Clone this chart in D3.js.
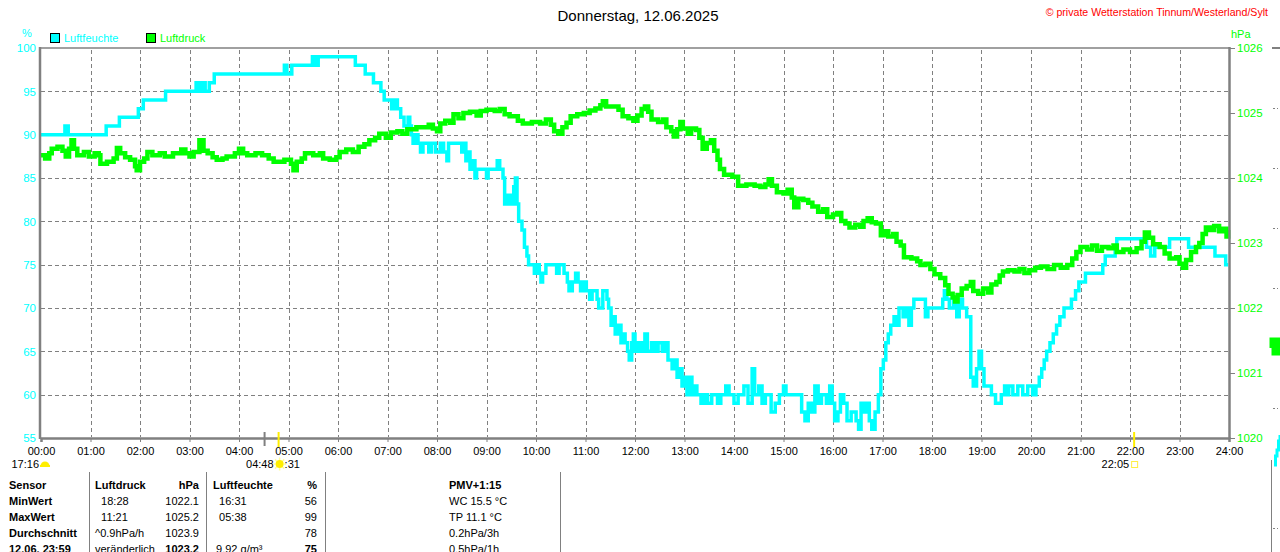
<!DOCTYPE html>
<html>
<head>
<meta charset="utf-8">
<script src="https://cdn.jsdelivr.net/npm/d3@7"></script>
<style>
  body { margin: 0; background: #fff; }
  svg { display: block; font-family: "Liberation Sans", Arial, sans-serif; }
</style>
</head>
<body>
<div id="chart"></div>
<script>
// chart data
const hourLabels = ["00:00","01:00","02:00","03:00","04:00","05:00","06:00","07:00","08:00","09:00","10:00","11:00","12:00",
  "13:00","14:00","15:00","16:00","17:00","18:00","19:00","20:00","21:00","22:00","23:00","24:00"];
const humTicks = [100, 95, 90, 85, 80, 75, 70, 65, 60, 55];
const presTicks = [1026, 1025, 1024, 1023, 1022, 1021, 1020];

// Luftfeuchte (%), step values
const humTime = ["00:00","00:29","00:33","01:19","01:35","01:58","02:04","02:31","03:08","03:12","03:15","03:19","03:24","03:30",
  "04:55","04:58","05:04","05:29","05:32","05:36","06:21","06:33","06:43","06:52","06:56","07:05","07:09","07:12","07:16","07:20",
  "07:25","07:27","07:29","07:31","07:34","07:37","07:40","07:43","07:50","07:53","07:58","08:04","08:08","08:12","08:14","08:30",
  "08:32","08:35","08:38","08:40","08:43","08:46","08:48","09:00","09:02","09:13","09:16","09:20","09:22","09:26","09:30","09:33",
  "09:35","09:37","09:39","09:43","09:46","09:49","09:51","09:58","10:00","10:04","10:06","10:08","10:12","10:25","10:28","10:34",
  "10:38","10:40","10:44","10:48","10:51","10:54","10:58","11:01","11:05","11:08","11:14","11:16","11:21","11:26","11:28","11:31",
  "11:34","11:36","11:39","11:43","11:45","11:48","11:51","11:53","11:56","11:58","12:00","12:04","12:08","12:12","12:15","12:20",
  "12:24","12:28","12:33","12:37","12:40","12:45","12:48","12:51","12:54","12:57","13:00","13:03","13:06","13:09","13:12","13:15",
  "13:20","13:24","13:28","13:33","13:40","13:44","13:50","13:54","14:00","14:05","14:12","14:17","14:22","14:25","14:30","14:34",
  "14:38","14:45","14:50","14:55","15:00","15:03","15:22","15:26","15:30","15:34","15:38","15:42","15:46","15:52","15:56","15:59",
  "16:02","16:06","16:09","16:13","16:17","16:22","16:28","16:31","16:34","16:37","16:41","16:44","16:47","16:51","16:55","16:58",
  "17:01","17:04","17:07","17:10","17:14","17:18","17:20","17:25","17:29","17:32","17:35","17:38","17:52","17:55","18:13","18:15",
  "18:18","18:21","18:26","18:30","18:33","18:37","18:42","18:47","18:50","18:54","18:57","19:00","19:03","19:12","19:17","19:24",
  "19:28","19:30","19:33","19:38","19:44","19:50","19:56","20:02","20:06","20:10","20:13","20:16","20:19","20:23","20:27","20:31",
  "20:35","20:40","20:49","20:54","20:58","21:06","21:27","21:30","21:42","21:44","22:20","22:25","22:30","22:48","23:11","23:43",
  "23:56","23:59"];
const humValue = [90,91,90,91,92,93,94,95,96,95,96,95,96,97,
  98,97,98,99,98,99,98,97,96,95,94,93,94,93,92,91,
  92,91,90,89,90,89,88,89,88,89,88,89,88,87,89,88,
  89,87,88,86,87,85,86,85,86,87,86,85,82,83,82,84,
  85,82,80,79,77,76,75,74,75,74,73,74,75,74,75,74,
  73,72,73,74,73,72,73,72,71,72,71,70,72,71,70,68,
  69,67,68,66,67,66,65,64,66,67,65,66,65,67,65,66,
  65,66,65,66,64,63,64,62,63,61,62,60,62,60,61,60,
  59,60,59,60,59,60,61,60,59,60,61,59,63,60,61,59,
  60,58,59,60,61,60,58,57,59,58,61,59,60,59,61,59,
  57,58,60,59,57,58,57,56,59,58,59,57,56,58,60,63,
  64,66,67,68,69,68,70,69,70,68,70,71,69,70,71,72,
  71,70,71,69,71,70,69,62,61,63,65,63,61,60,59,60,
  61,60,61,60,61,60,61,60,61,62,63,64,65,66,67,68,
  69,70,71,72,73,74,75,76,77,78,77,76,77,78,77,76,
  75,75];

// Luftdruck (hPa), step values
const presTime = ["00:00","00:05","00:10","00:13","00:20","00:26","00:30","00:34","00:37","00:40","00:44","00:52","00:58","01:05",
  "01:10","01:12","01:20","01:28","01:32","01:36","01:42","01:48","01:54","01:56","02:00","02:05","02:09","02:15","02:24","02:30",
  "02:40","02:50","02:55","03:00","03:05","03:12","03:17","03:22","03:28","03:33","03:40","03:45","03:55","04:00","04:05","04:10",
  "04:20","04:28","04:36","04:42","04:55","05:03","05:06","05:10","05:16","05:20","05:30","05:38","05:42","05:50","05:58","06:02",
  "06:10","06:18","06:25","06:32","06:38","06:45","06:50","06:58","07:04","07:12","07:18","07:24","07:35","07:45","07:50","07:55",
  "08:00","08:04","08:10","08:16","08:20","08:26","08:32","08:40","08:48","08:53","09:00","09:10","09:16","09:22","09:28","09:38",
  "09:44","09:55","10:05","10:12","10:18","10:22","10:27","10:32","10:37","10:42","10:50","10:58","11:05","11:12","11:18","11:21",
  "11:25","11:35","11:40","11:45","11:52","11:58","12:03","12:08","12:12","12:16","12:20","12:28","12:34","12:38","12:44","12:47",
  "12:51","12:55","12:58","13:04","13:08","13:14","13:18","13:22","13:27","13:32","13:36","13:40","13:43","13:48","13:58","14:05",
  "14:15","14:25","14:32","14:38","14:42","14:46","14:52","15:00","15:05","15:10","15:13","15:18","15:24","15:30","15:35","15:42",
  "15:48","15:53","16:00","16:05","16:10","16:15","16:20","16:27","16:33","16:37","16:42","16:47","16:52","16:58","17:02","17:07",
  "17:13","17:17","17:22","17:26","17:35","17:42","17:46","17:52","17:58","18:03","18:10","18:16","18:20","18:25","18:28","18:31",
  "18:36","18:42","18:47","18:50","18:56","19:02","19:08","19:12","19:18","19:22","19:26","19:32","19:40","19:46","19:52","19:58",
  "20:05","20:12","20:20","20:28","20:36","20:44","20:50","20:55","21:00","21:08","21:14","21:20","21:26","21:34","21:40","21:44",
  "21:52","22:00","22:08","22:14","22:18","22:23","22:28","22:36","22:42","22:48","22:56","23:00","23:04","23:08","23:14","23:20",
  "23:24","23:28","23:32","23:37","23:42","23:48","23:53","23:57","23:59"];
const presValue = [1024.35,1024.30,1024.38,1024.45,1024.48,1024.42,1024.33,1024.45,1024.58,1024.45,1024.35,1024.40,1024.33,1024.38,
  1024.35,1024.22,1024.25,1024.30,1024.46,1024.38,1024.32,1024.28,1024.18,1024.12,1024.25,1024.30,1024.40,1024.35,1024.38,1024.33,
  1024.38,1024.44,1024.38,1024.33,1024.40,1024.58,1024.42,1024.38,1024.32,1024.28,1024.30,1024.33,1024.38,1024.45,1024.38,1024.35,
  1024.38,1024.35,1024.30,1024.25,1024.28,1024.22,1024.12,1024.25,1024.30,1024.38,1024.35,1024.38,1024.30,1024.28,1024.32,1024.40,
  1024.44,1024.40,1024.48,1024.52,1024.58,1024.62,1024.68,1024.62,1024.70,1024.72,1024.68,1024.75,1024.78,1024.78,1024.82,1024.76,
  1024.72,1024.84,1024.88,1024.85,1024.98,1024.92,1025.00,1025.02,1024.96,1025.03,1025.05,1025.03,1025.06,1024.98,1024.95,1024.88,
  1024.84,1024.86,1024.84,1024.90,1024.82,1024.72,1024.68,1024.78,1024.85,1024.95,1024.98,1025.00,1025.04,1025.07,1025.12,1025.18,
  1025.10,1025.10,1025.05,1024.95,1024.92,1024.88,1024.96,1025.06,1025.10,1025.02,1024.90,1024.86,1024.90,1024.78,1024.72,1024.64,
  1024.75,1024.86,1024.76,1024.68,1024.76,1024.74,1024.62,1024.45,1024.54,1024.58,1024.42,1024.28,1024.14,1024.05,1024.02,1023.88,
  1023.90,1023.88,1023.86,1023.90,1023.98,1023.88,1023.78,1023.76,1023.82,1023.70,1023.55,1023.68,1023.66,1023.62,1023.56,1023.48,
  1023.52,1023.40,1023.44,1023.46,1023.34,1023.30,1023.24,1023.28,1023.25,1023.34,1023.38,1023.32,1023.30,1023.12,1023.18,1023.10,
  1023.14,1023.02,1022.96,1022.78,1022.76,1022.72,1022.66,1022.68,1022.60,1022.52,1022.46,1022.35,1022.22,1022.16,1022.10,1022.20,
  1022.30,1022.34,1022.40,1022.26,1022.22,1022.30,1022.24,1022.36,1022.40,1022.50,1022.56,1022.58,1022.56,1022.60,1022.54,1022.58,
  1022.62,1022.64,1022.60,1022.66,1022.62,1022.66,1022.76,1022.86,1022.94,1022.90,1022.96,1022.88,1022.94,1022.92,1022.96,1022.86,
  1022.90,1022.86,1022.92,1023.02,1023.16,1023.08,1022.98,1022.94,1022.84,1022.76,1022.78,1022.68,1022.62,1022.74,1022.86,1022.94,
  1023.00,1023.14,1023.24,1023.20,1023.26,1023.18,1023.22,1023.10,1023.20];

// sun markers below the time axis
const sunLabels = [
  {t: "17:16", at: "00:00", icon: "set"},
  {t: "04:48", at: "04:48", icon: "rise"},
  {t: "22:05", at: "22:05", icon: "box"}
];
const dawnMark = "04:31";

// summary table
const tableRows = [
  ["Sensor", "Luftdruck", "hPa", "Luftfeuchte", "%", "PMV+1:15"],
  ["MinWert", "  18:28", "1022.1", "  16:31", "56", "WC 15.5 °C"],
  ["MaxWert", "  11:21", "1025.2", "  05:38", "99", "TP 11.1 °C"],
  ["Durchschnitt", "^0.9hPa/h", "1023.9", "", "78", "0.2hPa/3h"],
  ["12.06. 23:59", "veränderlich", "1023.2", " 9.92 g/m³", "75", "0.5hPa/1h"]
];

const toHours = s => { const p = s.split(":"); return +p[0] + +p[1] / 60; };

const W = 1280, H = 552;
const grey = "#808080", cyan = "#00ffff", green = "#00ff00";

const svg = d3.select("#chart").append("svg")
  .attr("width", W).attr("height", H);

const x = d3.scaleLinear().domain([0, 24]).range([41, 1229]);
const yH = d3.scaleLinear().domain([55, 100]).range([438, 48]);
const yP = d3.scaleLinear().domain([1020, 1026]).range([438, 48]);

// title + copyright
svg.append("text").attr("x", 638).attr("y", 21).attr("text-anchor", "middle")
  .style("font-size", "15px").text("Donnerstag, 12.06.2025");
svg.append("text").attr("x", 1268).attr("y", 16).attr("text-anchor", "end")
  .style("font-size", "10.6px").attr("fill", "#ff0000").text("© private Wetterstation Tinnum/Westerland/Sylt");

// unit labels and legend
svg.append("text").attr("x", 22).attr("y", 37).style("font-size", "11px").attr("fill", cyan).text("%");
svg.append("text").attr("x", 1231).attr("y", 38).style("font-size", "11px").attr("fill", green).text("hPa");
const legend = [["Luftfeuchte", cyan, 50], ["Luftdruck", green, 146]];
legend.forEach(([name, col, lx]) => {
  svg.append("rect").attr("x", lx + 0.5).attr("y", 33.5).attr("width", 9).attr("height", 9)
    .attr("fill", col).attr("stroke", "#000").attr("stroke-width", 1);
  svg.append("text").attr("x", lx + 14).attr("y", 42).style("font-size", "11px").attr("fill", col).text(name);
});

// grid
const grid = svg.append("g").attr("stroke", grey).attr("stroke-width", 1).attr("stroke-dasharray", "4,3");
grid.selectAll("line.h").data(humTicks.slice(1, -1)).join("line")
  .attr("x1", 41).attr("x2", 1229).attr("y1", d => Math.round(yH(d)) + 0.5).attr("y2", d => Math.round(yH(d)) + 0.5);
grid.selectAll("line.v").data(d3.range(1, 24)).join("line")
  .attr("x1", d => Math.round(x(d)) + 0.5).attr("x2", d => Math.round(x(d)) + 0.5).attr("y1", 50).attr("y2", 437);

// data lines
const stepLine = (yScale) => d3.line().curve(d3.curveStepAfter).x(d => x(d[0])).y(d => yScale(d[1]));
const humData = humTime.map((t, i) => [toHours(t), humValue[i]]);
const presData = presTime.map((t, i) => [toHours(t), presValue[i]]);

svg.append("path").datum(humData).attr("d", stepLine(yH))
  .attr("fill", "none").attr("stroke", cyan).attr("stroke-width", 3.5);
svg.append("path").datum(presData).attr("d", stepLine(yP))
  .attr("fill", "none").attr("stroke", green).attr("stroke-width", 4.5);

// frame
svg.append("line").attr("x1", 40).attr("x2", 1229).attr("y1", 48).attr("y2", 48).attr("stroke", grey).attr("stroke-width", 1.5);
svg.append("line").attr("x1", 40).attr("x2", 40).attr("y1", 47).attr("y2", 439).attr("stroke", grey).attr("stroke-width", 2.5);
svg.append("line").attr("x1", 1229.5).attr("x2", 1229.5).attr("y1", 47).attr("y2", 439).attr("stroke", grey).attr("stroke-width", 2.5);

// left axis (humidity)
const axL = svg.append("g").attr("transform", "translate(38,0)")
  .call(d3.axisLeft(yH).tickValues(humTicks).tickSize(0).tickPadding(2));
axL.select(".domain").remove();
axL.selectAll("text").attr("fill", cyan).style("font-size", "11.5px").style("font-family", "Liberation Sans, Arial");

// right axis (pressure)
const axR = svg.append("g").attr("transform", "translate(1230,0)")
  .call(d3.axisRight(yP).tickValues(presTicks).tickSize(5).tickPadding(2).tickFormat(d3.format("d")));
axR.select(".domain").remove();
axR.selectAll("line").attr("stroke", grey);
axR.selectAll("text").attr("fill", green).style("font-size", "11.5px").style("font-family", "Liberation Sans, Arial");

// bottom axis (time)
const axB = svg.append("g").attr("transform", "translate(0,438)")
  .call(d3.axisBottom(x).tickValues(d3.range(0, 25)).tickSize(4).tickPadding(5).tickFormat(d => hourLabels[d]));
axB.select(".domain").attr("stroke", grey).attr("stroke-width", 2.5);
axB.selectAll("line").attr("stroke", grey);
axB.selectAll("text").attr("fill", "#000").style("font-size", "11px").style("font-family", "Liberation Sans, Arial");

// sun markers
svg.append("line").attr("x1", x(toHours(dawnMark))).attr("x2", x(toHours(dawnMark)))
  .attr("y1", 432).attr("y2", 446).attr("stroke", grey).attr("stroke-width", 2);
sunLabels.filter(s => s.icon !== "set").forEach(s => {
  svg.append("line").attr("x1", x(toHours(s.at))).attr("x2", x(toHours(s.at)))
    .attr("y1", 432).attr("y2", 447).attr("stroke", "#ffee00").attr("stroke-width", 2);
});
sunLabels.forEach(s => {
  const cx = s.icon === "set" ? 45 : x(toHours(s.at)) + 1;
  svg.append("text").attr("x", cx - 6).attr("y", 468).attr("text-anchor", "end")
    .style("font-size", "11px").text(s.t);
  if (s.icon === "set") {
    svg.append("path").attr("d", d3.arc()({innerRadius: 0, outerRadius: 4.5, startAngle: -Math.PI / 2, endAngle: Math.PI / 2}))
      .attr("transform", `translate(${cx},466)`).attr("fill", "#ffee00");
    svg.append("rect").attr("x", cx - 5).attr("y", 465).attr("width", 10).attr("height", 2).attr("fill", "#ffee00");
  } else if (s.icon === "rise") {
    const g = svg.append("g").attr("transform", `translate(${cx},464)`);
    g.selectAll("line").data(d3.range(8)).join("line")
      .attr("x1", d => 4 * Math.cos(d * Math.PI / 4)).attr("y1", d => 4 * Math.sin(d * Math.PI / 4))
      .attr("x2", d => 6.5 * Math.cos(d * Math.PI / 4)).attr("y2", d => 6.5 * Math.sin(d * Math.PI / 4))
      .attr("stroke", "#ffff99").attr("stroke-width", 1.5);
    g.append("circle").attr("r", 4).attr("fill", "#ffee00");
    svg.append("text").attr("x", cx + 5).attr("y", 468).style("font-size", "11px").text(":31");
  } else {
    svg.append("rect").attr("x", cx - 3.5).attr("y", 461.5).attr("width", 6).attr("height", 6)
      .attr("fill", "none").attr("stroke", "#ffee44").attr("stroke-width", 1);
  }
});

// summary table
const colX = [9, 95, 199, 213, 317, 449];
const colAnchor = ["start", "start", "end", "start", "end", "start"];
const sepX = [89, 206, 325, 560];
svg.selectAll("line.sep").data(sepX).join("line")
  .attr("x1", d => d + 0.5).attr("x2", d => d + 0.5).attr("y1", 472).attr("y2", H)
  .attr("stroke", grey).attr("stroke-width", 1);
tableRows.forEach((row, ri) => {
  row.forEach((cell, ci) => {
    const bold = ri === 0 || ci === 0 || (ri === 4 && (ci === 2 || ci === 4));
    svg.append("text").attr("x", colX[ci]).attr("y", 489 + ri * 16)
      .attr("text-anchor", colAnchor[ci]).attr("xml:space", "preserve")
      .style("font-size", "11px").style("font-weight", bold ? "bold" : "normal")
      .text(cell);
  });
});

// edge of the next chart, cut off at the right border
const fragY = d3.scaleLinear().domain([0, 8]).range([48, 528]);
const fragTicks = [1, 2, 3, 4, 6, 8];
svg.append("line").attr("x1", 1272).attr("x2", W).attr("y1", fragY(0)).attr("y2", fragY(0))
  .attr("stroke", grey).attr("stroke-width", 2);
svg.selectAll("line.frag").data(fragTicks).join("line")
  .attr("x1", 1273).attr("x2", 1278).attr("y1", d => fragY(d) + 0.5).attr("y2", d => fragY(d) + 0.5)
  .attr("stroke", grey).attr("stroke-width", 1).attr("stroke-dasharray", "2,2");
svg.append("line").attr("x1", 1271.5).attr("x2", 1271.5).attr("y1", 460).attr("y2", H)
  .attr("stroke", grey).attr("stroke-width", 1);
svg.append("path").datum([[0, 5.0], [1, 4.9], [2, 5.05], [3, 4.95], [4, 5.0]])
  .attr("d", d3.line().curve(d3.curveStepAfter).x(d => 1272 + d[0] * 2).y(d => fragY(d[1])))
  .attr("fill", "none").attr("stroke", green).attr("stroke-width", 9);
svg.append("path").datum([[0, 6.95], [1, 6.8], [2, 6.7], [3, 6.55], [4, 6.45]])
  .attr("d", d3.line().curve(d3.curveStepAfter).x(d => 1274 + d[0] * 1.5).y(d => fragY(d[1])))
  .attr("fill", "none").attr("stroke", cyan).attr("stroke-width", 3);
</script>
</body>
</html>
